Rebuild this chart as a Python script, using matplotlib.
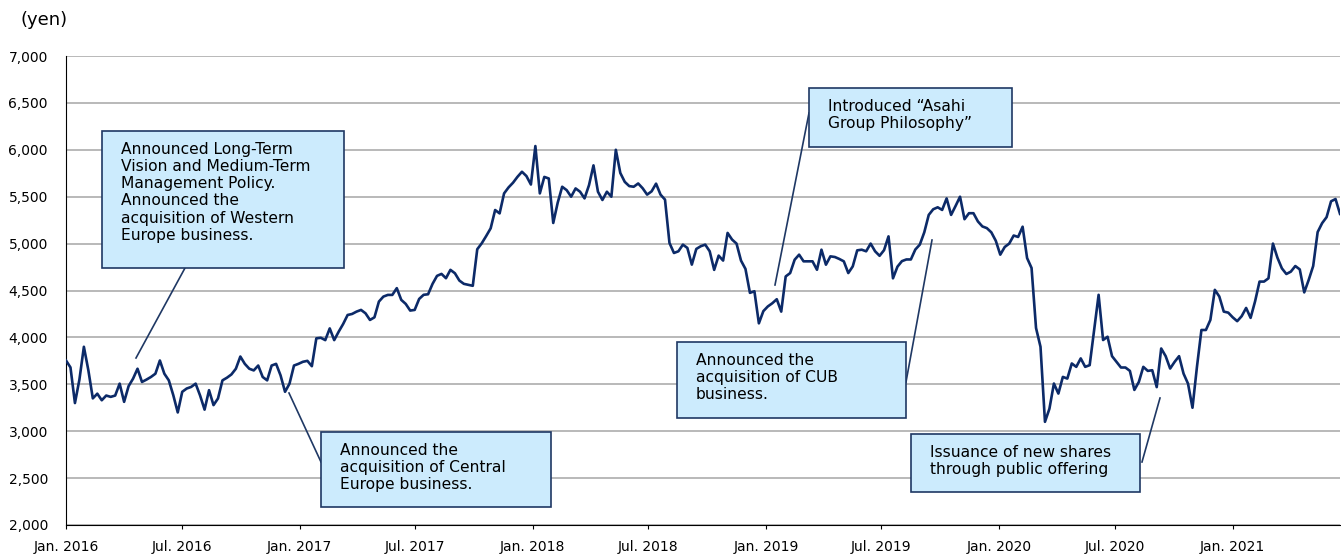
import pandas as pd
import matplotlib
matplotlib.use("Agg")
import matplotlib.pyplot as plt
from matplotlib.patches import Rectangle
from matplotlib.lines import Line2D

plt.rcParams['font.family'] = ['DejaVu Sans']

# weekly closing price (yen), first week of Jan. 2016 onward
start_date = "2016-01-01"
prices = [
    3754, 3680, 3300, 3550, 3900, 3650, 3350, 3400, 3330, 3380,
    3366, 3380, 3507, 3313, 3480, 3560, 3666, 3525, 3550, 3578,
    3613, 3754, 3613, 3542, 3384, 3200, 3420, 3455, 3472, 3507,
    3380, 3230, 3437, 3278, 3349, 3542, 3570, 3605, 3666, 3796,
    3718, 3666, 3648, 3700, 3578, 3542, 3700, 3718, 3595, 3420,
    3507, 3700, 3718, 3740, 3750, 3693, 3990, 3996, 3971, 4096,
    3971, 4061, 4143, 4239, 4250, 4275, 4293, 4257, 4186, 4214,
    4382, 4435, 4453, 4453, 4525, 4400, 4357, 4286, 4293, 4410,
    4454, 4460, 4571, 4656, 4677, 4631, 4720, 4684, 4606, 4571,
    4560, 4550, 4940, 5003, 5081, 5163, 5358, 5322, 5535, 5599,
    5649, 5712, 5766, 5720, 5630, 6040, 5535, 5711, 5694, 5220,
    5437, 5606, 5570, 5500, 5588, 5553, 5482, 5623, 5834, 5553,
    5465, 5553, 5500, 6000, 5753, 5658, 5613, 5606, 5641, 5590,
    5522, 5557, 5639, 5522, 5469, 5007, 4900, 4918, 4989, 4954,
    4776, 4943, 4972, 4989, 4918, 4720, 4872, 4819, 5114, 5043,
    5000, 4819, 4730, 4475, 4492, 4150, 4280, 4330, 4364, 4407,
    4275, 4650, 4686, 4828, 4882, 4811, 4811, 4811, 4721, 4935,
    4775, 4864, 4857, 4836, 4811, 4686, 4757, 4928, 4935, 4918,
    5000, 4918, 4870, 4930, 5077, 4630, 4754, 4813, 4831, 4831,
    4937, 4989, 5120, 5306, 5366, 5387, 5359, 5482, 5306, 5401,
    5500, 5260, 5324, 5324, 5236, 5183, 5165, 5120, 5030, 4882,
    4964, 5000, 5086, 5071, 5180, 4846, 4740, 4100, 3900, 3100,
    3240, 3508, 3401, 3579, 3561, 3722, 3686, 3776, 3686, 3704,
    4079, 4454, 3972, 4007, 3800, 3740, 3679, 3679, 3643, 3440,
    3525, 3686, 3643, 3650, 3470, 3882, 3800, 3668, 3739, 3800,
    3614, 3507, 3250, 3686, 4079, 4079, 4186, 4507, 4436, 4275,
    4264, 4214, 4173, 4226, 4314, 4208, 4384, 4595, 4595, 4630,
    5000, 4850, 4736, 4676, 4701, 4761, 4725, 4480, 4613, 4761,
    5123, 5218, 5282, 5451, 5475, 5317,
]

tick_dates = ["2016-01-01", "2016-07-01", "2017-01-01", "2017-07-01",
              "2018-01-01", "2018-07-01", "2019-01-01", "2019-07-01",
              "2020-01-01", "2020-07-01", "2021-01-01"]
tick_labels = ["Jan. 2016", "Jul. 2016", "Jan. 2017", "Jul. 2017",
               "Jan. 2018", "Jul. 2018", "Jan. 2019", "Jul. 2019",
               "Jan. 2020", "Jul. 2020", "Jan. 2021"]
y_ticks = [2000, 2500, 3000, 3500, 4000, 4500, 5000, 5500, 6000, 6500, 7000]

# text, box (left, top, right, bottom) in px, leader line (x0, y0, x1, y1) in px
notes = [
    ("Announced Long-Term\nVision and Medium-Term\nManagement Policy.\nAnnounced the\nacquisition of Western\nEurope business.",
     (102, 131, 344, 268), (185, 268, 136, 358)),
    ("Announced the\nacquisition of Central\nEurope business.",
     (321, 432, 551, 507), (321, 462, 289, 393)),
    ("Introduced \u201cAsahi\nGroup Philosophy\u201d",
     (809, 88, 1012, 147), (809, 113, 775, 285)),
    ("Announced the\nacquisition of CUB\nbusiness.",
     (677, 342, 906, 418), (906, 382, 932, 240)),
    ("Issuance of new shares\nthrough public offering",
     (911, 434, 1140, 492), (1142, 462, 1160, 398)),
]

line_color = "#0C2A68"
box_fill = "#CCEBFD"
box_edge = "#1F3864"

W, H = 1341, 554
dates = pd.date_range(start_date, periods=len(prices), freq="W-FRI")

fig = plt.figure(figsize=(W / 100, H / 100), dpi=100)
ax = fig.add_axes([66 / W, 1 - 525 / H, (1340 - 66) / W, (525 - 56) / H])

ax.plot(dates, prices, color=line_color, lw=1.9, zorder=3)

ax.set_ylim(2000, 7000)
ax.set_xlim(pd.Timestamp(start_date), dates[-1])
ax.set_yticks(y_ticks)
ax.set_yticklabels([f"{v:,}" for v in y_ticks], fontsize=10)
ax.set_xticks(pd.to_datetime(tick_dates))
ax.set_xticklabels(tick_labels, fontsize=10)
ax.tick_params(axis="y", length=0, pad=13)
ax.tick_params(axis="x", length=3, width=0.8, pad=7.5, color="black")
ax.grid(axis="y", color="#A6A6A6", lw=1.1)
ax.set_axisbelow(True)
for side in ("top", "right"):
    ax.spines[side].set_visible(False)
ax.spines["left"].set_color("black")
ax.spines["bottom"].set_color("black")

fig.text(20 / W, 1 - 20 / H, "(yen)", fontsize=13, va="center", ha="left")


def fx(x):
    return x / W


def fy(y):
    return 1 - y / H


for text, (l, t, r, b), (x0, y0, x1, y1) in notes:
    fig.add_artist(Line2D([fx(x0), fx(x1)], [fy(y0), fy(y1)], color=box_edge,
                          lw=1.2, transform=fig.transFigure, zorder=4))
    fig.add_artist(Rectangle((fx(l), fy(b)), fx(r) - fx(l), fy(t) - fy(b),
                             facecolor=box_fill, edgecolor=box_edge, lw=1.2,
                             transform=fig.transFigure, zorder=5))
    fig.text(fx(l + 19), fy(t + 11), text, fontsize=11.2, va="top", ha="left",
             linespacing=1.18, zorder=6)

fig.savefig("out.png", dpi=100)
